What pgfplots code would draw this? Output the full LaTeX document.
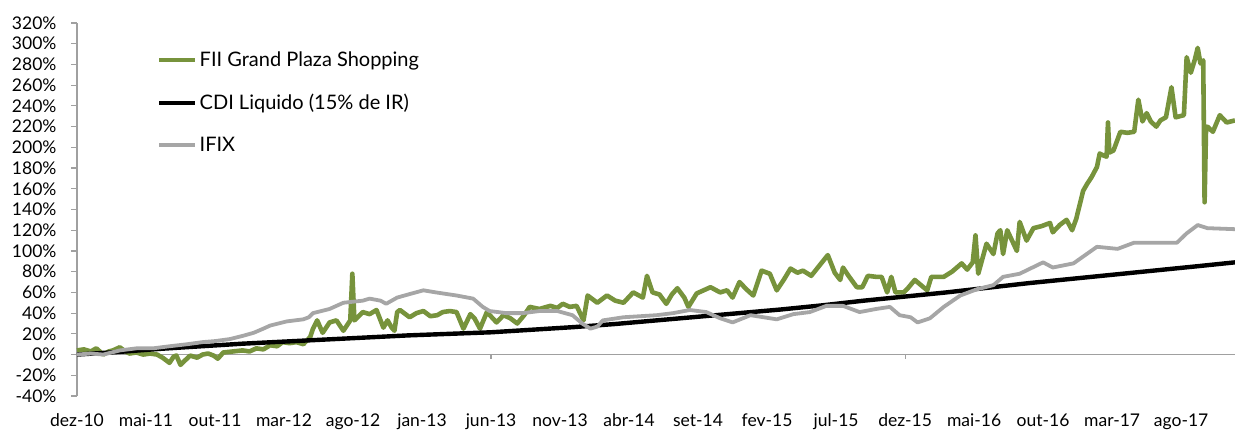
\documentclass[border=0pt]{standalone}
\usepackage{pgfplots}
\pgfplotsset{compat=1.18}
\usepackage{fontspec}
\setmainfont{Lato}

\definecolor{fiigreen}{HTML}{77933C}
\definecolor{ifixgray}{HTML}{A6A6A6}
\definecolor{axgray}{HTML}{A0A0A0}

% months since dez-10, accumulated return in %
\pgfplotstableread{
m v
0 4
0.5 5
1.0 3
1.4 6
1.9 0
2.3 3
2.6 4
3.1 7
3.5 3
3.8 1
4.3 2
4.8 0
5.3 1
5.8 0
6.2 -3
6.7 -8
7.0 -2
7.2 -1
7.5 -10
7.8 -6
8.2 -1
8.7 -3
9.1 0
9.5 1
9.9 -1
10.2 -4
10.6 2
11.3 3
12.0 4
12.5 3
13.0 6
13.5 5
14.0 9
14.5 8
14.9 12
15.4 11
15.9 12
16.4 10
16.9 17
17.1 25
17.4 33
17.8 21
18.3 31
18.8 33
19.3 23
19.8 33
19.95 78
20.1 33
20.7 41
21.2 39
21.7 43
22.2 26
22.5 33
22.8 26
23.0 23
23.2 41
23.4 43
24.1 36
24.6 40
25.1 42
25.6 37
26.1 38
26.5 41
27.0 42
27.5 41
28.0 25
28.5 39
28.8 35
29.2 25
29.7 41
30.4 31
30.9 38
31.4 35
31.9 30
32.4 38
32.8 46
33.5 44
34.3 47
34.8 45
35.2 49
35.7 46
36.2 47
36.7 33
37.0 57
37.7 50
38.4 57
39.0 52
39.6 50
40.3 60
41.0 55
41.3 76
41.7 60
42.2 58
42.7 49
43.1 58
43.5 64
44.0 55
44.3 46
44.9 59
45.4 62
45.9 65
46.6 60
47.1 62
47.5 55
48.0 70
48.5 63
49.0 57
49.6 81
50.2 78
50.7 62
51.2 72
51.7 83
52.2 79
52.6 81
53.2 76
53.8 86
54.4 96
54.9 79
55.3 72
55.5 84
55.9 76
56.5 65
56.9 65
57.3 76
57.9 75
58.3 75
58.7 60
59.0 75
59.3 60
59.9 60
60.2 64
60.7 72
61.6 62
61.9 75
62.8 75
63.4 80
64.1 88
64.5 82
64.9 89
65.1 115
65.3 78
65.9 107
66.4 97
66.7 117
66.9 120
67.1 97
67.4 120
68.1 100
68.3 128
68.8 110
69.3 122
69.9 124
70.5 127
70.7 118
71.2 125
71.7 130
72.1 120
72.4 131
72.9 158
73.2 165
73.5 171
73.9 181
74.1 194
74.4 192
74.6 191
74.7 224
74.8 195
75.1 197
75.6 215
76.1 214
76.6 215
76.9 246
77.2 225
77.5 233
77.8 225
78.2 220
78.5 226
78.9 229
79.3 258
79.6 229
80.2 231
80.4 287
80.7 272
81.0 285
81.2 296
81.4 281
81.6 284
81.7 147
81.8 215
81.9 220
82.3 215
82.8 231
83.3 224
83.9 226
}\fiidata

\pgfplotstableread{
m v
0 0
3 2.5
6 5.5
9 8
12 10.5
15 12.5
18 14.5
21 16.5
24 18.5
27 20
30 21.5
33 24
36 26.5
39 29.5
42 33
45 36.5
48 40
51 43.5
54 47.5
57 52
60 56
63 60
66 64.5
69 69
72 73
75 77
78 81
81 85
83.9 89
}\cdidata

\pgfplotstableread{
m v
0 0
1 1
1.9 0
2.5 2
3.1 4
4.3 6
5.5 6
6.7 8
8 10
9.1 12
10 13
11.1 15
12 18
12.8 21
13.5 25
14 28
15.2 32
16.4 34
16.8 36
17.1 40
18.3 44
19.3 50
20 51
20.7 52
21.2 54
22 52
22.4 49
23.2 55
24 58
25.1 62
26 60
27.5 57
28.7 54
29.4 46
29.9 42
31.1 40
32.3 40
33.5 42
34.8 42
35.9 38
36.6 30
37.2 25
37.7 27
38.1 33
39.6 36
42 38
43.2 40
44.4 43
45.6 41
46.6 35
47.5 31
48.8 38
50.7 34
51.9 39
53.1 41
54.3 47
55.5 47
56.7 41
57.9 44
58.9 46
59.6 38
60.4 36
60.9 31
61.8 35
62.8 46
64 57
65.2 63
66.4 67
67.1 75
68.3 78
70 89
70.7 84
72.2 88
73.9 104
75.4 102
76.6 108
77.8 108
79.7 108
80.4 117
81.2 125
81.9 122
83.9 121
}\ifixdata

\begin{document}
\begin{tikzpicture}
\begin{axis}[
    scale only axis,
    width=1158pt, height=373pt,
    xmin=0, xmax=83.9,
    ymin=-40, ymax=320,
    axis lines*=left,
    x axis line style={draw=none},
    y axis line style={draw=axgray, line width=1.2pt},
    xtick={0,5,...,80},
    xticklabels={dez-10,mai-11,out-11,mar-12,ago-12,jan-13,jun-13,nov-13,abr-14,set-14,fev-15,jul-15,dez-15,mai-16,out-16,mar-17,ago-17},
    x tick style={draw=none},
    xticklabel style={yshift=-8pt},
    ytick={-40,-20,...,320},
    yticklabel={\pgfmathprintnumber{\tick}\%},
    y tick style={draw=axgray, line width=1.2pt},
    tick align=outside,
    major tick length=6pt,
    yticklabel style={xshift=-11pt},
    /pgf/number format/assume math mode=true,
    tick label style={font=\fontsize{17.5}{18}\selectfont},
    clip=false,
    legend style={at={(0.069,0.928)}, anchor=north west, draw=none, fill=none,
        font=\fontsize{20}{22}\selectfont, row sep=22pt, inner sep=0pt,
        nodes={inner sep=2pt}},
    legend cell align=left,
    legend image code/.code={\draw[#1] (0pt,0pt) -- (36pt,0pt);},
]
\draw[axgray, line width=1.2pt] (axis cs:0,0) -- (axis cs:83.9,0);
\draw[axgray, line width=1.2pt] (axis cs:30,0) -- (axis cs:30,-4.5);
\draw[axgray, line width=1.2pt] (axis cs:60,0) -- (axis cs:60,-4.5);
\addplot[fiigreen, line width=4.6pt, line join=round] table[x=m, y=v] {\fiidata};
\addplot[black, line width=4.4pt] table[x=m, y=v] {\cdidata};
\addplot[ifixgray, line width=3.8pt, line join=round] table[x=m, y=v] {\ifixdata};
\legend{FII Grand Plaza Shopping, CDI Liquido (15\% de IR), IFIX}
\end{axis}
\pgfresetboundingbox
\path (-77pt,-36pt) rectangle (1158pt,396pt);
\end{tikzpicture}
\end{document}
